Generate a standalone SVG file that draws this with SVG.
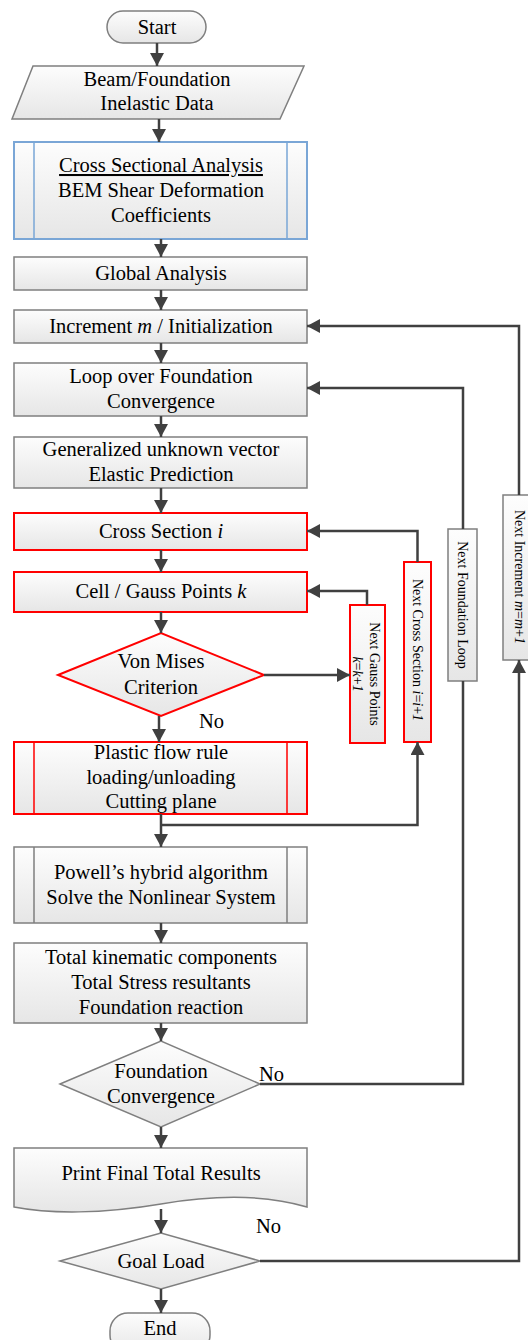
<svg xmlns="http://www.w3.org/2000/svg" width="528" height="1340" viewBox="0 0 528 1340">
<defs>
<linearGradient id="g" x1="0" y1="0" x2="0" y2="1">
<stop offset="0" stop-color="#fdfdfd"/>
<stop offset="1" stop-color="#e6e6e6"/>
</linearGradient>
<marker id="ah" markerUnits="userSpaceOnUse" markerWidth="14" markerHeight="14" refX="13" refY="7" orient="auto">
<path d="M0,0 L13,7 L0,14 Z" fill="#404040"/>
</marker>
<style>
.n{fill:url(#g);stroke:#7f7f7f;stroke-width:1.5}
.r{fill:url(#g);stroke:#ff0000;stroke-width:2}
.b{fill:url(#g);stroke:#7aa6d6;stroke-width:2}
.il{fill:none;stroke-width:1.5}
text{font-family:"Liberation Serif","Times New Roman",serif;font-size:20.5px;fill:#000;text-anchor:middle}
.s{font-size:14px}
.l{text-anchor:start}
.i{font-style:italic}
.c{fill:none;stroke:#404040;stroke-width:2.5}
</style>
</defs>

<g id="start"><rect class="n" x="107" y="11" width="99" height="32" rx="16"/><text x="157" y="34">Start</text></g>
<g id="data"><path class="n" d="M33,66 H304 L280,119 H12 Z"/><text x="157" y="86">Beam/Foundation</text><text x="157" y="110">Inelastic Data</text></g>
<g id="cross-sectional"><rect class="b" x="14" y="142" width="293" height="97"/><path class="il" stroke="#7aa6d6" d="M34,142 V239 M287,142 V239"/><text x="161" y="172" text-decoration="underline">Cross Sectional Analysis</text><text x="161" y="197">BEM Shear Deformation</text><text x="161" y="222">Coefficients</text></g>
<g id="global"><rect class="n" x="14" y="257" width="293" height="33"/><text x="161" y="280">Global Analysis</text></g>
<g id="increment"><rect class="n" x="14" y="310" width="293" height="33"/><text x="161" y="333">Increment <tspan class="i">m</tspan> / Initialization</text></g>
<g id="loop"><rect class="n" x="14" y="363" width="293" height="53"/><text x="161" y="383">Loop over Foundation</text><text x="161" y="408">Convergence</text></g>
<g id="generalized"><rect class="n" x="14" y="437" width="293" height="51"/><text x="161" y="456">Generalized unknown vector</text><text x="161" y="481">Elastic Prediction</text></g>
<g id="cross-section-i"><rect class="r" x="14" y="513" width="293" height="37"/><text x="161" y="538">Cross Section <tspan class="i">i</tspan></text></g>
<g id="cell"><rect class="r" x="14" y="572" width="293" height="40"/><text x="161" y="598">Cell / Gauss Points <tspan class="i">k</tspan></text></g>
<g id="von-mises"><path class="r" d="M58,675 L161,633 L264,675 L161,716 Z"/><text x="161" y="668">Von Mises</text><text x="161" y="694">Criterion</text></g>
<g id="plastic"><rect class="r" x="14" y="742" width="293" height="72"/><path class="il" stroke="#ff0000" stroke-width="2" d="M34,742 V814 M287,742 V814"/><text x="161" y="759">Plastic flow rule</text><text x="161" y="784">loading/unloading</text><text x="161" y="808">Cutting plane</text></g>
<g id="powell"><rect class="n" x="14" y="847" width="293" height="76"/><path class="il" stroke="#7f7f7f" d="M34,847 V923 M287,847 V923"/><text x="161" y="879">Powell’s hybrid algorithm</text><text x="161" y="904">Solve the Nonlinear System</text></g>
<g id="total"><rect class="n" x="14" y="943" width="293" height="80"/><text x="161" y="964">Total kinematic components</text><text x="161" y="989">Total Stress resultants</text><text x="161" y="1014">Foundation reaction</text></g>
<g id="foundation-convergence"><path class="n" d="M60,1084 L161,1041 L260,1084 L161,1127 Z"/><text x="161" y="1078">Foundation</text><text x="161" y="1103">Convergence</text></g>
<g id="print"><path class="n" d="M14,1148 H307 V1207 C270,1196 220,1194 161,1204 S50,1214 14,1207 Z"/><text x="161" y="1180">Print Final Total Results</text></g>
<g id="goal"><path class="n" d="M60,1261 L161,1233 L260,1261 L161,1289 Z"/><text x="161" y="1268">Goal Load</text></g>
<g id="end"><rect class="n" x="110" y="1313" width="100" height="40" rx="18"/><text x="160" y="1335">End</text></g>

<g id="next-gauss"><rect class="r" x="350" y="605" width="35" height="138"/><g transform="translate(367.5,674) rotate(90)"><text class="s" y="-2.5">Next Gauss Points</text><text class="s" y="14.5"><tspan class="i">k</tspan>=<tspan class="i">k</tspan>+<tspan class="i">1</tspan></text></g></g>
<g id="next-cross"><rect class="r" x="404" y="562" width="27" height="180"/><g transform="translate(417.5,650) rotate(90)"><text class="s" y="4.5">Next Cross Section <tspan class="i">i</tspan>=<tspan class="i">i</tspan>+<tspan class="i">1</tspan></text></g></g>
<g id="next-foundation"><rect class="n" x="448" y="529" width="29" height="152"/><g transform="translate(462.5,605) rotate(90)"><text class="s" y="4.5">Next Foundation Loop</text></g></g>
<g id="next-increment"><rect class="n" x="503" y="495" width="32" height="165"/><g transform="translate(519,577) rotate(90)"><text class="s" y="4.5">Next Increment <tspan class="i">m</tspan>=<tspan class="i">m</tspan>+<tspan class="i">1</tspan></text></g></g>

<g id="connectors">
<path class="c" marker-end="url(#ah)" d="M157,43 V66"/>
<path class="c" marker-end="url(#ah)" d="M159,119 V142"/>
<path class="c" marker-end="url(#ah)" d="M161,239 V257"/>
<path class="c" marker-end="url(#ah)" d="M161,290 V310"/>
<path class="c" marker-end="url(#ah)" d="M161,343 V363"/>
<path class="c" marker-end="url(#ah)" d="M161,416 V437"/>
<path class="c" marker-end="url(#ah)" d="M161,488 V513"/>
<path class="c" marker-end="url(#ah)" d="M161,550 V572"/>
<path class="c" marker-end="url(#ah)" d="M161,612 V633"/>
<path class="c" marker-end="url(#ah)" d="M159,716 V742"/>
<path class="c" marker-end="url(#ah)" d="M161,814 V847"/>
<path class="c" marker-end="url(#ah)" d="M161,923 V943"/>
<path class="c" marker-end="url(#ah)" d="M161,1023 V1041"/>
<path class="c" marker-end="url(#ah)" d="M161,1127 V1148"/>
<path class="c" marker-end="url(#ah)" d="M161,1209 V1233"/>
<path class="c" marker-end="url(#ah)" d="M161,1289 V1313"/>
<path class="c" marker-end="url(#ah)" d="M264,675 H350"/>
<path class="c" marker-end="url(#ah)" d="M367,605 V591 H307"/>
<path class="c" marker-end="url(#ah)" d="M161,825 H417.5 V742"/>
<path class="c" marker-end="url(#ah)" d="M417.5,562 V531 H307"/>
<path class="c" d="M260,1084 H463 V681"/>
<path class="c" marker-end="url(#ah)" d="M463,529 V388 H307"/>
<path class="c" marker-end="url(#ah)" d="M260,1261 H519 V660"/>
<path class="c" marker-end="url(#ah)" d="M519,495 V326 H307"/>
<text class="l" x="199" y="728">No</text>
<text class="l" x="259" y="1081">No</text>
<text class="l" x="256" y="1233">No</text>
</g>
</svg>
